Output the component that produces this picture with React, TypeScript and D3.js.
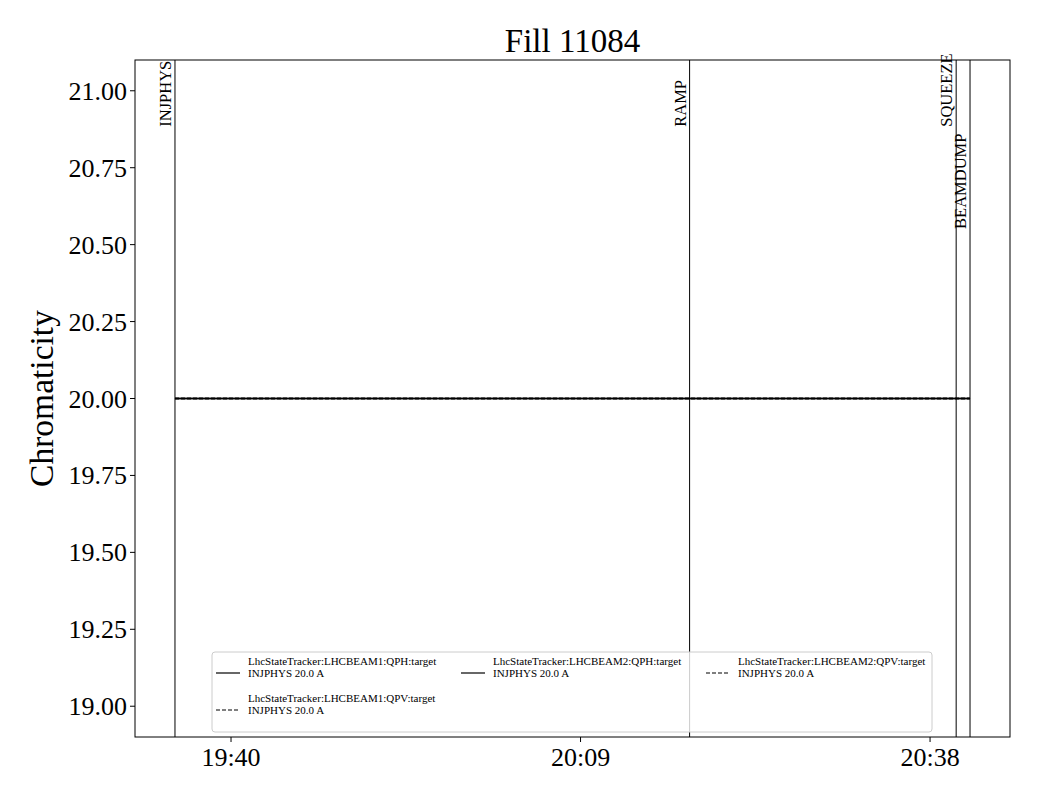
import React from "react";
import * as d3 from "d3";

const TITLE = "Fill 11084";
const Y_LABEL = "Chromaticity";
const Y_DOMAIN = [18.9, 21.1];
const Y_TICKS = [19.0, 19.25, 19.5, 19.75, 20.0, 20.25, 20.5, 20.75, 21.0];
const X_DOMAIN = ["19:32:02", "20:44:38"];
const X_TICKS = ["19:40:00", "20:09:00", "20:38:00"];

const MODE_NAMES = ["INJPHYS", "RAMP", "SQUEEZE", "BEAMDUMP"];
const MODE_TIMES = ["19:35:21", "20:18:03", "20:40:10", "20:41:19"];
const MODE_LABEL_Y = [20.883, 20.883, 20.883, 20.551];

const SERIES_NAMES = [
  "LhcStateTracker:LHCBEAM1:QPH:target",
  "LhcStateTracker:LHCBEAM1:QPV:target",
  "LhcStateTracker:LHCBEAM2:QPH:target",
  "LhcStateTracker:LHCBEAM2:QPV:target",
];
const SERIES_SUB = ["INJPHYS 20.0 A", "INJPHYS 20.0 A", "INJPHYS 20.0 A", "INJPHYS 20.0 A"];
const SERIES_DASHED = [false, true, false, true];
const SERIES_TIMES = [
  ["19:35:21", "20:41:19"],
  ["19:35:21", "20:41:19"],
  ["19:35:21", "20:41:19"],
  ["19:35:21", "20:41:19"],
];
const SERIES_VALUES = [
  [20.0, 20.0],
  [20.0, 20.0],
  [20.0, 20.0],
  [20.0, 20.0],
];

const parseT = (s: string) => {
  const [h, m, sec] = s.split(":").map(Number);
  return new Date(2025, 0, 1, h, m, sec || 0);
};

const W = 1040;
const H = 800;
const L = 135, R = 1010, T = 60, B = 737;
const FONT = "'Liberation Serif', 'DejaVu Serif', serif";

export default function App() {
  const x = d3.scaleTime().domain(X_DOMAIN.map(parseT)).range([L, R]);
  const y = d3.scaleLinear().domain(Y_DOMAIN).range([B, T]);
  const fmt = d3.timeFormat("%H:%M");
  const line = d3
    .line<[Date, number]>()
    .x((d) => x(d[0]))
    .y((d) => y(d[1]));

  const legendCols = [[0, 1], [2], [3]];
  const legX = 212, legY = 652, legW = 720, legH = 80;
  const colX = [216, 461, 706];
  const rowY = [661, 698];

  const drawOrder = [1, 3, 0, 2];

  return (
    <svg
      width={W}
      height={H}
      style={{ position: "absolute", left: 0, top: 0, background: "#fff" }}
      fontFamily={FONT}
    >
      <rect x={0} y={0} width={W} height={H} fill="#fff" />
      <defs>
        <clipPath id="plot">
          <rect x={L} y={T} width={R - L} height={B - T} />
        </clipPath>
      </defs>

      <g clipPath="url(#plot)">
        {drawOrder.map((i) => {
          const pts: [Date, number][] = SERIES_TIMES[i].map((t, k) => [parseT(t), SERIES_VALUES[i][k]]);
          return (
            <path
              key={i}
              d={line(pts) || ""}
              fill="none"
              stroke="#000"
              strokeWidth={1.5}
              strokeDasharray={SERIES_DASHED[i] ? "4,2" : undefined}
            />
          );
        })}
        {MODE_TIMES.map((t, i) => (
          <line key={i} x1={x(parseT(t))} x2={x(parseT(t))} y1={T} y2={B} stroke="#000" strokeWidth={1} />
        ))}
      </g>

      {MODE_TIMES.map((t, i) => {
        const px = x(parseT(t)) - 4;
        const py = y(MODE_LABEL_Y[i]);
        return (
          <text
            key={i}
            transform={`translate(${px},${py}) rotate(-90)`}
            fontSize={16.5}
            textAnchor="start"
          >
            {MODE_NAMES[i]}
          </text>
        );
      })}

      <rect
        x={legX}
        y={legY}
        width={legW}
        height={legH}
        rx={3}
        fill="#fff"
        fillOpacity={0.8}
        stroke="#ccc"
        strokeWidth={1}
      />
      {legendCols.map((col, ci) =>
        col.map((si, ri) => {
          const cx = colX[ci];
          const ty = rowY[ri];
          return (
            <g key={si}>
              <line
                x1={cx}
                x2={cx + 24}
                y1={ty + 12}
                y2={ty + 12}
                stroke="#000"
                strokeWidth={1.2}
                strokeDasharray={SERIES_DASHED[si] ? "4,2" : undefined}
              />
              <text x={cx + 32} y={ty + 3.5} fontSize={11}>
                {SERIES_NAMES[si]}
              </text>
              <text x={cx + 32} y={ty + 16} fontSize={11}>
                {SERIES_SUB[si]}
              </text>
            </g>
          );
        })
      )}

      <rect x={L} y={T} width={R - L} height={B - T} fill="none" stroke="#000" strokeWidth={1} />

      {Y_TICKS.map((v) => (
        <g key={v}>
          <line x1={L - 5} x2={L} y1={y(v)} y2={y(v)} stroke="#000" strokeWidth={1} />
          <text x={L - 8} y={y(v) + 9} fontSize={26} textAnchor="end">
            {v.toFixed(2)}
          </text>
        </g>
      ))}
      <text
        transform={`translate(${53},${(T + B) / 2}) rotate(-90)`}
        fontSize={33.5}
        textAnchor="middle"
      >
        {Y_LABEL}
      </text>

      {X_TICKS.map((t) => {
        const px = x(parseT(t));
        return (
          <g key={t}>
            <line x1={px} x2={px} y1={B} y2={B + 5} stroke="#000" strokeWidth={1} />
            <text x={px} y={B + 29} fontSize={26} textAnchor="middle">
              {fmt(parseT(t))}
            </text>
          </g>
        );
      })}

      <text x={(L + R) / 2} y={52} fontSize={33} textAnchor="middle">
        {TITLE}
      </text>
    </svg>
  );
}
